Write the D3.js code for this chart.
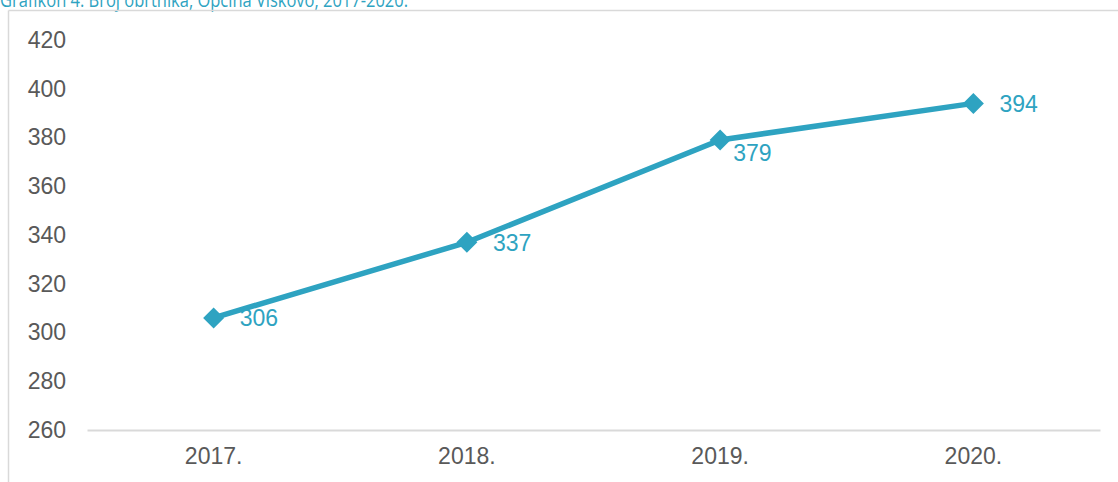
<!DOCTYPE html>
<html><head><meta charset="utf-8">
<script src="https://cdn.jsdelivr.net/npm/d3@7"></script>
<style>
html,body{margin:0;padding:0;background:#fff;}
svg{display:block;}
</style></head>
<body>
<script>
const categories = ["2017.", "2018.", "2019.", "2020."];
const values = [306, 337, 379, 394];
const yTicks = [260, 280, 300, 320, 340, 360, 380, 400, 420];
const title = "Grafikon 4. Broj obrtnika, Općina Viškovo, 2017-2020.";

const W = 1118, H = 482;
const color = "#2ea3c1";
const svg = d3.select("body").append("svg").attr("width", W).attr("height", H);

// title (cut off at the top as in the original)
svg.append("text").attr("x", 0).attr("y", 7)
  .attr("font-family", "Open Sans, sans-serif").attr("font-size", 20)
  .attr("textLength", 408).attr("lengthAdjust", "spacingAndGlyphs")
  .attr("fill", color).text(title);

// outer frame (left + top)
svg.append("line").attr("x1", 8.5).attr("x2", 8.5).attr("y1", 10.5).attr("y2", H)
  .attr("stroke", "#d9d9d9").attr("stroke-width", 1.5);
svg.append("line").attr("x1", 8.5).attr("x2", W).attr("y1", 10.5).attr("y2", 10.5)
  .attr("stroke", "#d9d9d9").attr("stroke-width", 1.5);

const x = d3.scaleBand().domain(categories).range([87, 1100]);
const y = d3.scaleLinear().domain([260, 420]).range([430, 40]);
const font = "Liberation Sans, Arial, sans-serif";

// y tick labels
const yAxis = d3.axisLeft(y).tickValues(yTicks).tickSize(0).tickPadding(0);
const gy = svg.append("g").attr("transform", "translate(66,0)").call(yAxis);
gy.select(".domain").remove();
gy.selectAll("text").attr("font-family", font)
  .attr("font-size", 23).attr("fill", "#595959");

// x axis
const xAxis = d3.axisBottom(x).tickSize(0).tickPadding(18);
const gx = svg.append("g").attr("transform", "translate(0,430)").call(xAxis);
gx.select(".domain").attr("stroke", "#d9d9d9").attr("stroke-width", 2);
gx.selectAll("text").attr("font-family", font)
  .attr("font-size", 23).attr("fill", "#595959");

const pts = categories.map((c, i) => ({c, v: values[i]}));
const cx = d => x(d.c) + x.bandwidth() / 2;

svg.append("path").datum(pts)
  .attr("d", d3.line().x(cx).y(d => y(d.v)))
  .attr("fill", "none").attr("stroke", color).attr("stroke-width", 5.5)
  .attr("stroke-linejoin", "round");

svg.selectAll(".mk").data(pts).enter().append("path")
  .attr("transform", d => `translate(${cx(d)},${y(d.v)})`)
  .attr("d", "M0,-10.5L10.5,0L0,10.5L-10.5,0Z").attr("fill", color);

svg.selectAll(".lbl").data(pts).enter().append("text")
  .attr("x", d => cx(d) + (d.c === "2019." ? 13 : 26))
  .attr("y", d => y(d.v) + (d.c === "2019." ? 13 : 0.5))
  .attr("dy", "0.35em")
  .attr("font-family", font)
  .attr("font-size", 23).attr("fill", color)
  .text(d => d.v);
</script>
</body></html>
